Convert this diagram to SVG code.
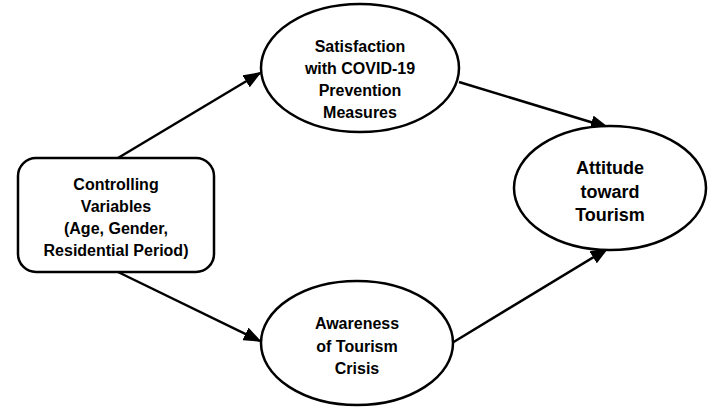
<svg xmlns="http://www.w3.org/2000/svg" width="718" height="414" viewBox="0 0 718 414">
<defs>
<style>
.shape{fill:#fff;stroke:#000;stroke-width:2.5}
.t{font-family:"Liberation Sans",Arial,sans-serif;font-weight:bold;font-size:16px;text-anchor:middle;fill:#000}
.tb{font-size:18px}
.c{stroke:#000;stroke-width:2.5;fill:none}
</style>
<marker id="a" viewBox="0 0 10 10" refX="9" refY="5" markerWidth="18" markerHeight="14" orient="auto" markerUnits="userSpaceOnUse" preserveAspectRatio="none">
<path d="M0,0 L10,5 L0,10 Z" fill="#000"/>
</marker>
</defs>
<g id="connectors">
<line class="c" x1="118" y1="158" x2="260" y2="73" marker-end="url(#a)"/>
<line class="c" x1="118" y1="272" x2="260" y2="341" marker-end="url(#a)"/>
<line class="c" x1="459" y1="82" x2="607" y2="127" marker-end="url(#a)"/>
<line class="c" x1="452" y1="343" x2="607" y2="249" marker-end="url(#a)"/>
</g>
<g id="controlling">
<rect class="shape" x="18" y="158" width="196" height="114" rx="18"/>
<text class="t" x="116" y="190">Controlling</text>
<text class="t" x="116" y="212">Variables</text>
<text class="t" x="116" y="234">(Age, Gender,</text>
<text class="t" x="116" y="256">Residential Period)</text>
</g>
<g id="satisfaction">
<ellipse class="shape" cx="360" cy="68" rx="99" ry="64"/>
<text class="t" x="360" y="52">Satisfaction</text>
<text class="t" x="360" y="74">with COVID-19</text>
<text class="t" x="360" y="96">Prevention</text>
<text class="t" x="360" y="118">Measures</text>
</g>
<g id="awareness">
<ellipse class="shape" cx="357" cy="343" rx="96" ry="62"/>
<text class="t" x="357" y="329">Awareness</text>
<text class="t" x="357" y="352">of Tourism</text>
<text class="t" x="357" y="374">Crisis</text>
</g>
<g id="attitude">
<ellipse class="shape" cx="610" cy="188" rx="96" ry="62"/>
<text class="t tb" x="610" y="174">Attitude</text>
<text class="t tb" x="610" y="198">toward</text>
<text class="t tb" x="610" y="221">Tourism</text>
</g>
</svg>
